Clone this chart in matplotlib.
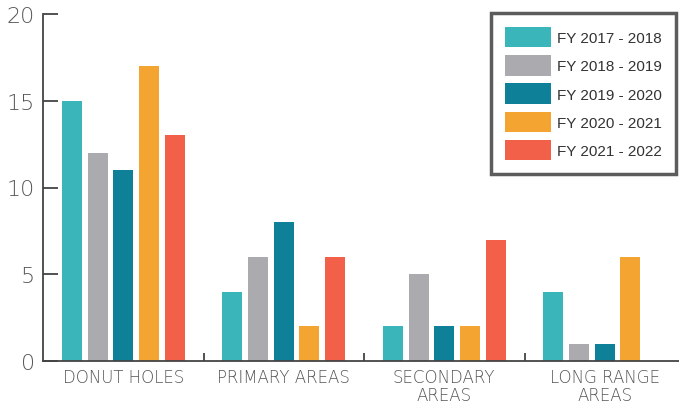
import numpy as np
import matplotlib
matplotlib.use('Agg')
import matplotlib.pyplot as plt

categories = ['DONUT HOLES', 'PRIMARY AREAS', 'SECONDARY\nAREAS', 'LONG RANGE\nAREAS']
years = ['FY 2017 - 2018', 'FY 2018 - 2019', 'FY 2019 - 2020', 'FY 2020 - 2021', 'FY 2021 - 2022']
fy_2017_2018 = [15, 4, 2, 4]
fy_2018_2019 = [12, 6, 5, 1]
fy_2019_2020 = [11, 8, 2, 1]
fy_2020_2021 = [17, 2, 2, 6]
fy_2021_2022 = [13, 6, 7, 0]
colors = ['#3AB5B9', '#ABABAF', '#0E8199', '#F4A431', '#F2604A']

series = [fy_2017_2018, fy_2018_2019, fy_2019_2020, fy_2020_2021, fy_2021_2022]

fig = plt.figure(figsize=(6.79, 4.06), dpi=100)
ax = fig.add_axes([43 / 679, 44 / 406, 642 / 679, 347 / 406])

x = np.arange(len(categories))
step = 0.16
width = 0.125
for i, (vals, lab, col) in enumerate(zip(series, years, colors)):
    ax.bar(x + (i - 2) * step, vals, width=width, color=col, label=lab)

ax.set_xlim(-0.5, 3.5)
ax.set_ylim(0, 20)
ax.set_yticks([0, 5, 10, 15, 20])
ax.set_xticks(x)
ax.set_xticklabels(categories, fontsize=12, color='#555555', fontweight='light', linespacing=1.0)
ax.set_xticks([0.5, 1.5, 2.5], minor=True)

for s in ['top', 'right']:
    ax.spines[s].set_visible(False)
for s in ['left', 'bottom']:
    ax.spines[s].set_color('#444444')
    ax.spines[s].set_linewidth(1.3)

ax.tick_params(axis='y', direction='in', length=11, width=1.3, color='#444444',
               labelsize=16, labelcolor='#555555', pad=6)
ax.tick_params(axis='x', which='major', length=0, pad=5)
ax.tick_params(axis='x', which='minor', direction='in', length=6, width=1.3, color='#444444')
for t in ax.get_yticklabels():
    t.set_fontweight('light')

leg = ax.legend(loc='upper right', bbox_to_anchor=(676 / 679, 1 - 14 / 406),
                bbox_transform=fig.transFigure, frameon=True, borderaxespad=0,
                fancybox=False, handlelength=3.0, handleheight=1.7,
                labelspacing=0.5, borderpad=0.9, handletextpad=0.45,
                prop={'family': 'Liberation Sans', 'size': 11})
leg.get_frame().set_edgecolor('#333333')
leg.get_frame().set_linewidth(2.5)
for t in leg.get_texts():
    t.set_color('#333333')

fig.savefig('out.png', dpi=100)
